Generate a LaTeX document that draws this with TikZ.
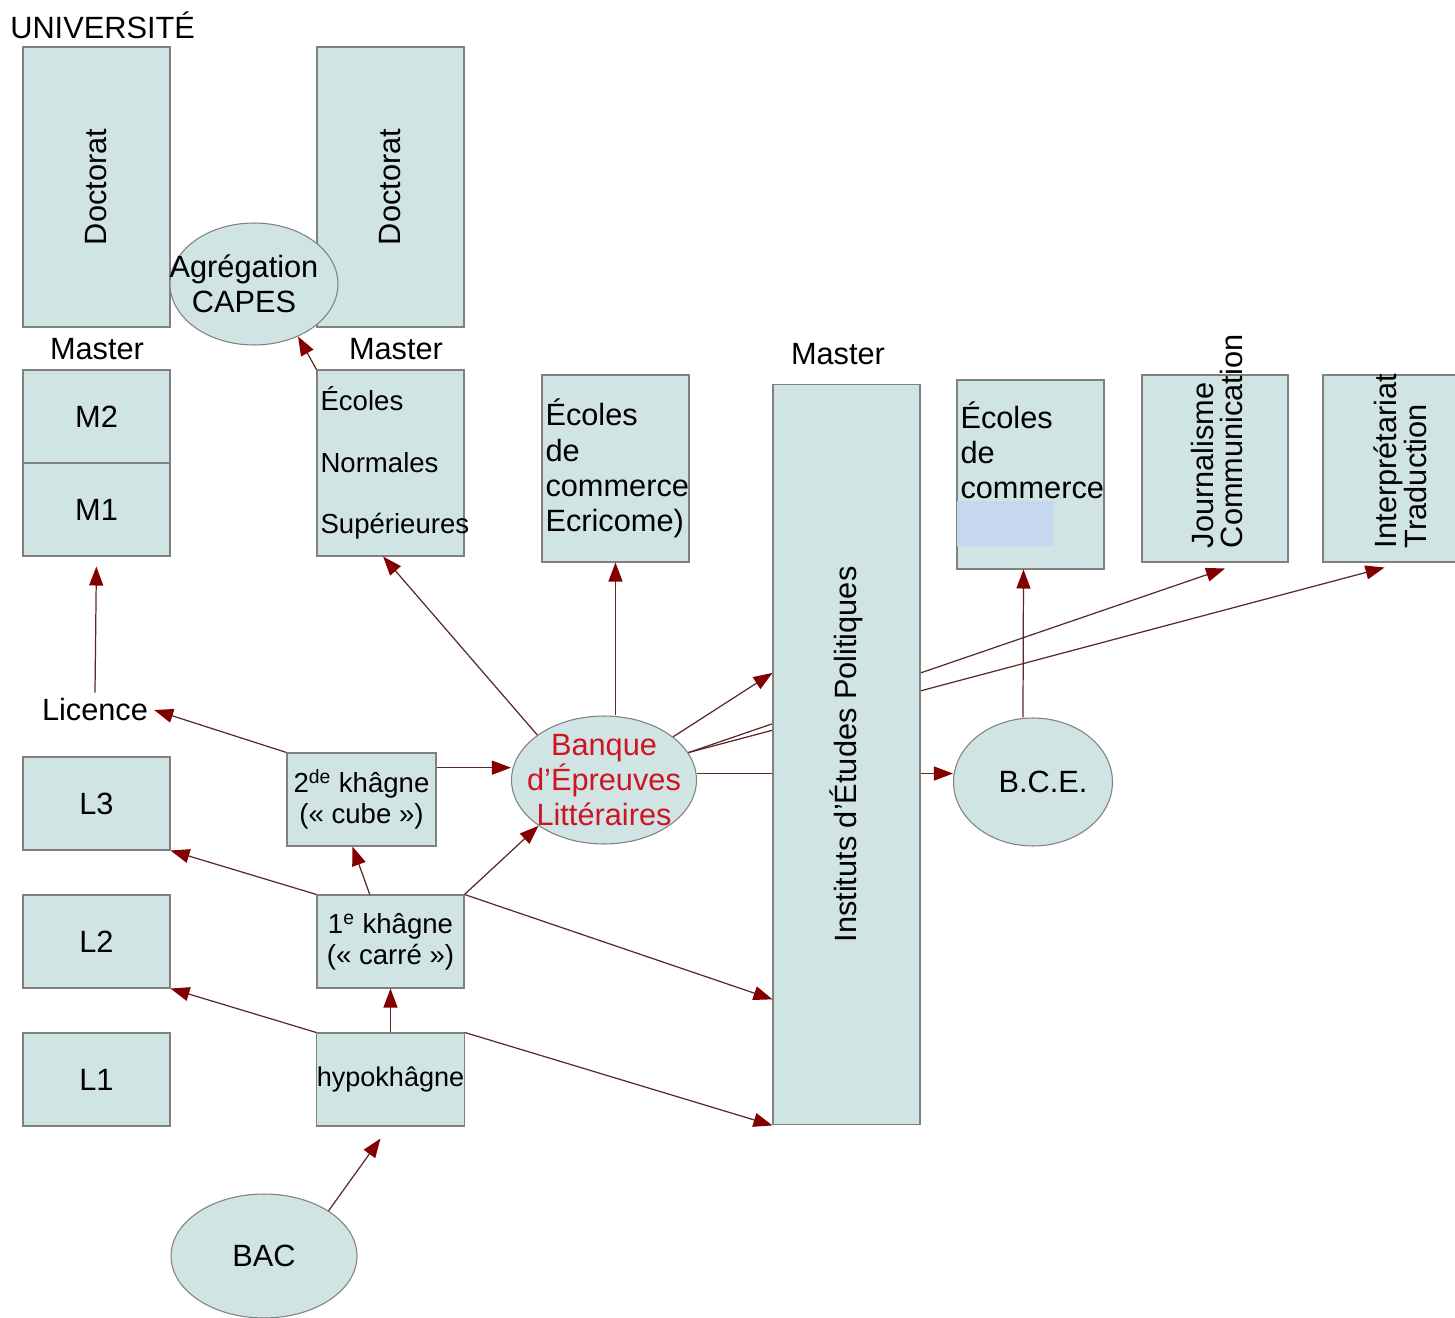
\documentclass[tikz,border=0pt]{standalone}
\usepackage{fontspec}
\setmainfont{Liberation Sans}
\usetikzlibrary{arrows.meta,calc,shapes.geometric}
\definecolor{boxfill}{RGB}{208,228,228}
\definecolor{boxline}{RGB}{128,128,128}
\definecolor{arrline}{RGB}{90,40,40}
\definecolor{arrhead}{RGB}{130,0,0}
\definecolor{belred}{RGB}{205,20,35}
\definecolor{hidefill}{RGB}{198,216,240}
\tikzset{box/.style={draw=boxline, fill=boxfill, line width=0.6pt, inner sep=2pt, minimum width=2.94cm},
    oval/.style={ellipse, draw=boxline, fill=boxfill, line width=0.6pt, inner sep=0pt},
    arr/.style={draw=arrline, line width=0.7pt,
        -{Triangle[length=0.38cm,width=0.28cm,color=arrhead]}},
    small/.style={font=\fontsize{15.7}{17.6}\selectfont},
    vtext/.style={rotate=90, align=left, inner sep=0pt, font=\fontsize{17.5}{17}\selectfont}
}

\begin{document}
\begin{tikzpicture}[x=0.02cm, y=-0.02cm, font=\fontsize{17.5}{20}\selectfont]
      \useasboundingbox (0,0) rectangle (1455,1318);
      \node[anchor=west, inner sep=0pt] (univ) at (10,25) {UNIVERSITÉ};
      \node[box, rotate=90, minimum width=5.6cm, minimum height=2.94cm] (docl) at (96.5,187) {Doctorat};
      \node[box, rotate=90, minimum width=5.6cm, minimum height=2.94cm] (docr) at (390.5,187) {Doctorat};
      \node[oval, minimum width=3.36cm, minimum height=2.44cm,
        label={[align=center, xshift=-0.2cm]center:Agrégation\\CAPES}] (agreg) at (254,284) {};
      \node (masterl) at (97,349) {Master};
      \node (masterr) at (396,349) {Master};
      \node[box, minimum height=1.86cm] (m2) at (96.5,416.5) {M2};
      \node[box, minimum height=1.86cm] (m1) at (96.5,509.5) {M1};
      \node[box, minimum height=3.72cm, align=left, text width=2.8cm,
        font=\fontsize{15.7}{35}\selectfont] (ens) at (390.5,463) {Écoles\\Normales\\Supérieures};
      \node[box, minimum height=3.74cm, align=left, text width=2.8cm] (eco1) at (615.5,468.5) {Écoles\\de\\commerce\\Ecricome)};
      \node (masteriep) at (838,354) {Master};
      \node[box, minimum height=3.78cm, align=left, text width=2.8cm] (eco2) at (1030.5,474.5) {Écoles\\de\\commerce\\[8pt]\mbox{}};
      \fill[hidefill] ($(eco2.north west)+(1,122)$) rectangle ++(97,45);
      \node[box, minimum width=2.92cm, minimum height=3.74cm] (journ) at (1215,468.5) {};
      \node[vtext, anchor=west] (journtxt) at ($(journ.south)+(2,-14)$) {Journalisme\\Communication};
      \node[box, minimum height=3.74cm] (interp) at (1396.5,468.5) {};
      \node[vtext, anchor=west] (interptxt) at ($(interp.south)+(4,-14)$) {Interprétariat\\Traduction};
      \node (licence) at (95,710) {Licence};
      \node[box, minimum height=1.86cm] (l3) at (96.5,803.5) {L3};
      \node[box, minimum height=1.86cm] (l2) at (96.5,941.5) {L2};
      \node[box, minimum height=1.86cm] (l1) at (96.5,1079.5) {L1};
      \node[box, small, align=center, minimum width=2.98cm, minimum height=1.86cm] (k2) at (361.5,799.5) {2\textsuperscript{de} khâgne\\(« cube »)};
      \node[box, small, align=center, minimum height=1.86cm] (k1) at (390.5,941.5) {1\textsuperscript{e} khâgne\\(« carré »)};
      \node[box, minimum height=1.86cm, inner xsep=0pt,
        font=\fontsize{15.4}{17}\selectfont] (hypo) at (390.5,1079.5) {hypokhâgne};
      \node[oval, minimum width=3.72cm, minimum height=2.48cm] (bac) at (264,1256) {BAC};
      \node[oval, minimum width=3.7cm, minimum height=2.56cm,
        label={[align=center, text=belred]center:Banque\\d'Épreuves\\Littéraires}] (bel) at (604,780) {};
      \node[oval, minimum width=3.18cm, minimum height=2.56cm,
        label={[xshift=0.2cm]center:B.C.E.}] (bce) at (1033,782) {};
      \draw[arr, shorten >=0.2cm] (licence.north) -- (m1.south);
      \draw[arr] (k2.north west) -- (licence.east);
      \draw[arr] (k2.23) -- (k2.23 -| bel.west);
      \draw[arr] (k1.north west) -- (l3.south east);
      \draw[arr] ($(k1.north west)!0.36!(k1.north east)$) -- ($(k2.south west)!0.44!(k2.south east)$);
      \draw[arr] (k1.north east) -- (bel.215);
      \draw[arr] (hypo.north west) -- (l2.south east);
      \draw[arr] (hypo.north) -- (k1.south);
      \draw[arr] (bac.35) -- ($(hypo.south)+(-10,12)$);
      \draw[arr] (bel.146) -- ($(ens.south west)!0.45!(ens.south east)$);
      \draw[arr] (eco1.south |- bel.north) -- (eco1.south);
      \draw[arr] (bel.18) -- ($(journ.south)+(10,6)$);
      \draw[arr] (bel.18) -- ($(interp.south)+(-12,5)$);
      \draw[arr] (bel.4) -- (bel.4 -| bce.west);
      \node[box, minimum height=14.82cm,
        label={[rotate=90]center:Instituts d'Études Politiques}] (iep) at (846.5,754.5) {};
      \draw[arr] (bel.32) -- ($(iep.north west)!0.39!(iep.south west)$);
      \draw[arr] (k1.north east) -- ($(iep.south west)!0.17!(iep.north west)$);
      \draw[arr] (hypo.north east) -- (iep.south west);
      \draw[arr] ($(bce.north)+(-10,0)$) -- ($(eco2.south)+(-7,0)$);
      \draw[arr] (ens.north west) -- (agreg.-50);
    \end{tikzpicture}
\end{document}
